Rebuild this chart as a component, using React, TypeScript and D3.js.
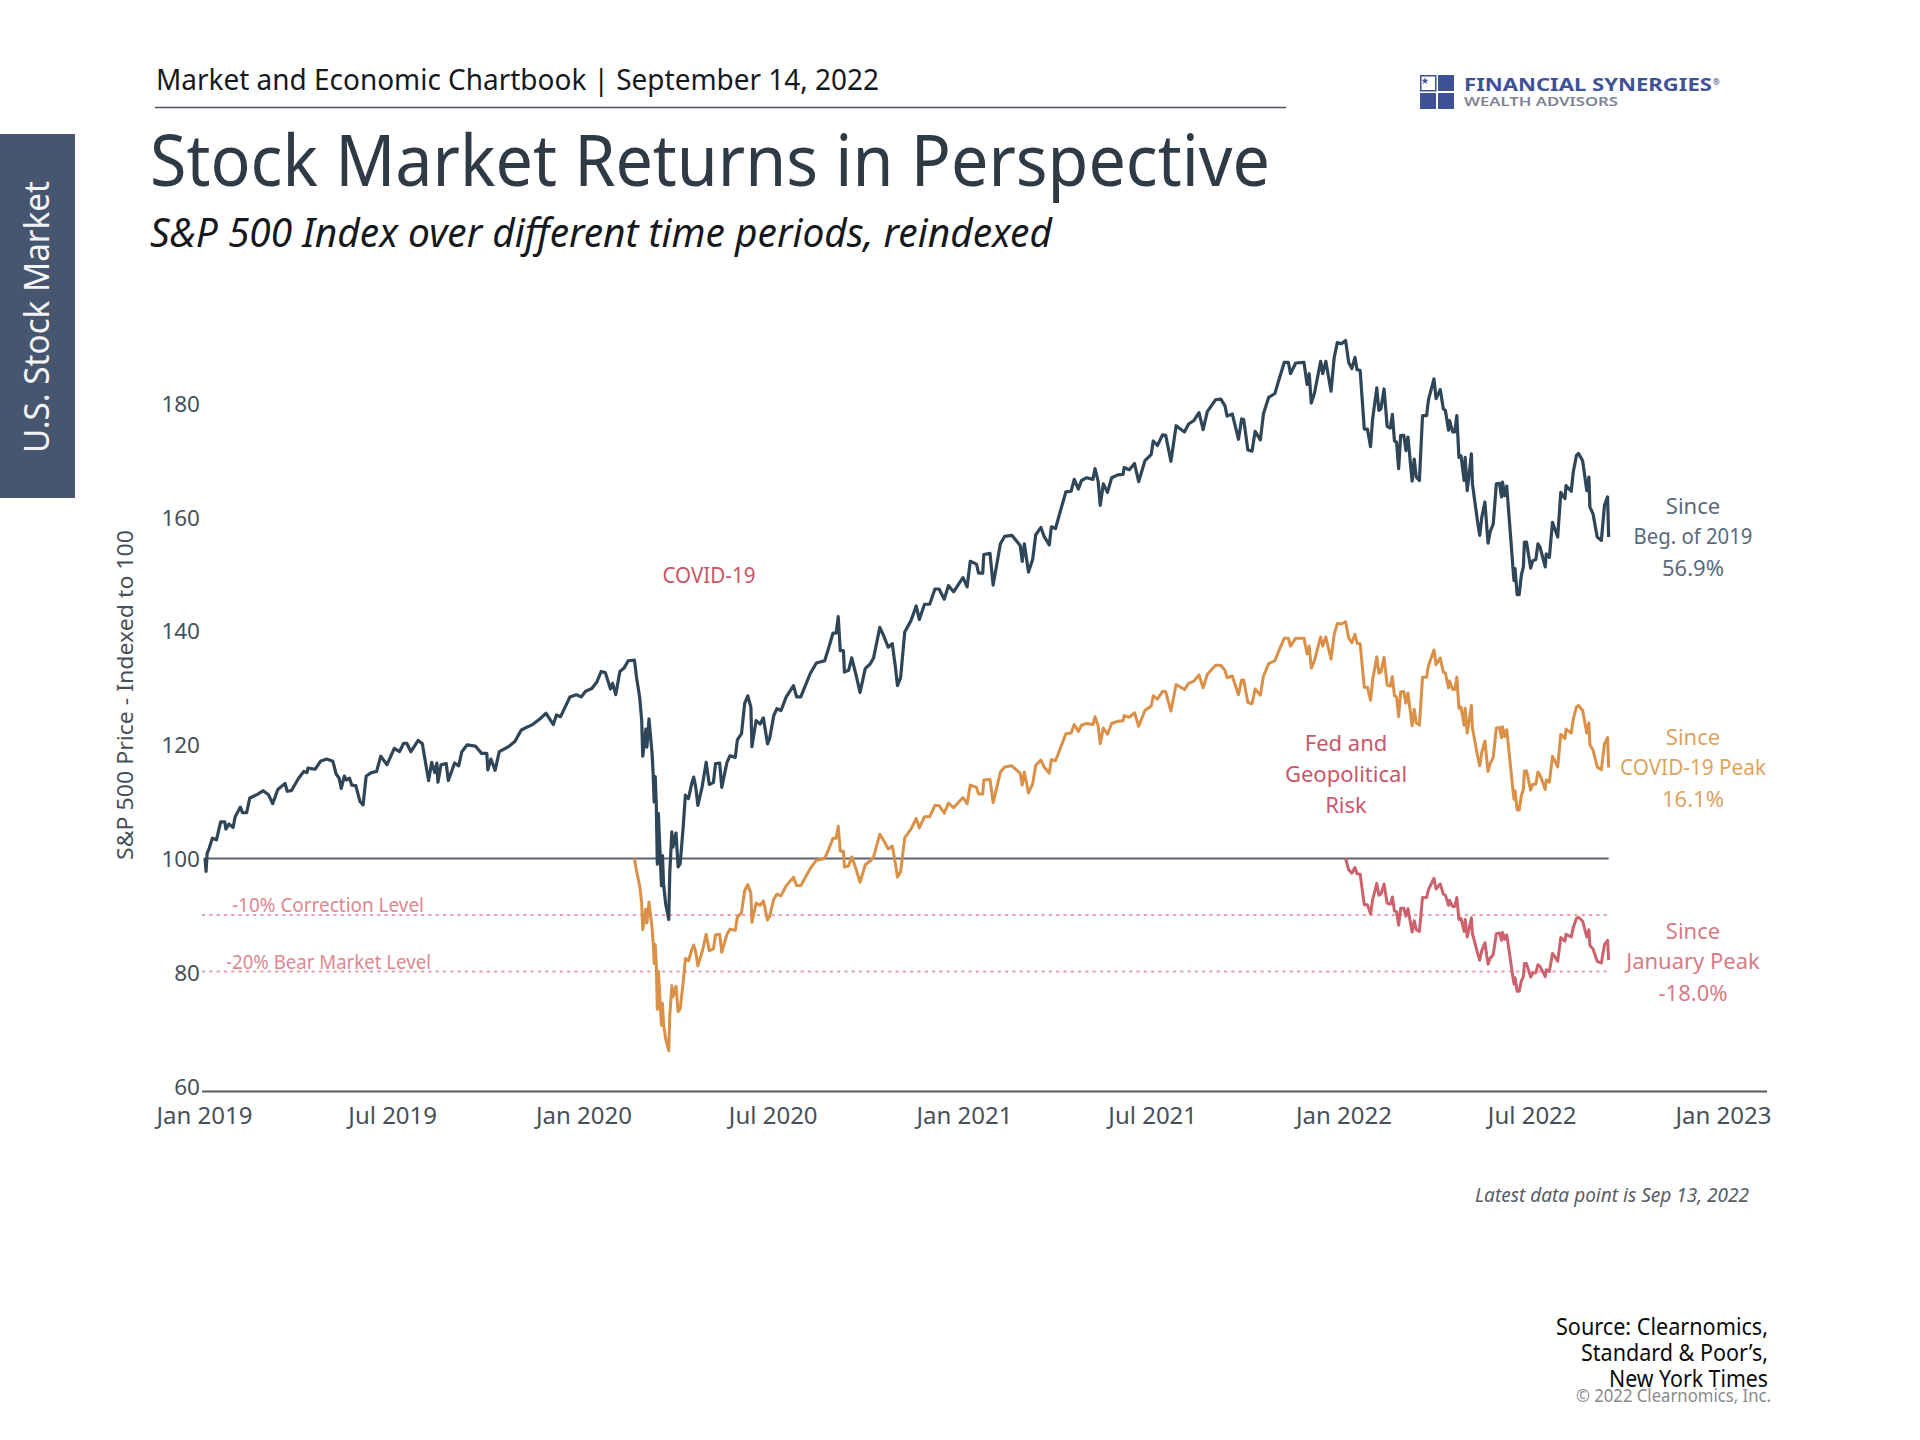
import * as d3 from "d3";
import { useEffect, useRef } from "react";

// Days since Jan 1, 2019
const days = [
  1, 2, 3, 5, 8, 12, 16, 20, 21, 24, 28, 30, 35, 37, 41, 44, 51, 57, 62, 66, 71, 78, 80, 84, 91, 96, 99, 100, 107, 112,
  118, 124, 127, 130, 132, 135, 137, 140, 142, 146, 150, 153, 156, 161, 166, 170, 176, 183, 188, 192, 195, 199, 206,
  210, 216, 219, 222, 224, 225, 228, 233, 235, 241, 245, 248, 253, 261, 267, 272, 273, 276, 280, 284, 293, 299, 305,
  310, 316, 323, 329, 336, 339, 343, 352, 358, 363, 367, 373, 378, 382, 386, 391, 393, 396, 400, 404, 408,
  414, 416, 419, 421, 422, 425, 426, 428, 431, 432, 433, 434, 435, 436, 437, 440, 441, 442, 444, 447, 448, 450, 451,
  454, 456, 458, 461, 463, 466, 469, 471, 473, 475, 479, 483, 486, 490, 492, 496, 498, 503, 506, 511, 513, 517, 520,
  523, 526, 527, 531, 535, 538, 542, 544, 548, 551, 555, 560, 567, 570, 574, 583, 589, 597, 601, 605, 608, 610, 612,
  615, 616, 620, 623, 627, 631, 636, 641, 644, 650, 654, 658, 662, 665, 667, 670, 674, 680, 685, 688, 693, 698, 703,
  707, 712, 716, 721, 726, 730, 734, 737, 743, 745, 749, 750, 756, 759, 766, 770, 777, 785, 787, 789, 793, 797, 800,
  805, 808, 813, 815, 819, 824, 829, 834, 837, 841, 844, 849, 855, 857, 860, 862, 865, 869, 873, 879, 884, 885, 890,
  895, 899, 905, 911, 913, 917, 922, 925, 930, 935, 943, 947, 952, 957, 961, 965, 973, 978, 982, 984, 989, 995, 998,
  1000, 1004, 1008, 1011, 1016, 1019, 1024, 1030, 1033, 1039, 1043, 1045, 1050, 1058, 1061, 1063, 1065, 1068, 1074,
  1076, 1079, 1084, 1087, 1090, 1094,
  1098, 1101, 1104, 1107, 1109, 1112, 1116, 1119, 1122, 1124, 1128, 1130, 1132, 1135, 1138, 1141, 1143, 1145, 1147,
  1149, 1151, 1154, 1156, 1158, 1162, 1164, 1166, 1169, 1172, 1176, 1177, 1178, 1183, 1185, 1189, 1192, 1194, 1197,
  1198, 1201, 1203, 1205, 1207, 1209, 1212, 1213, 1215, 1219, 1220, 1225, 1227, 1229, 1232, 1235, 1237, 1240, 1243,
  1246, 1248, 1249, 1251, 1253, 1257, 1259, 1260, 1261, 1263, 1265, 1267, 1269, 1270, 1272, 1276, 1278, 1281, 1283,
  1285, 1290, 1291, 1294, 1297, 1299, 1302, 1305, 1309, 1310, 1315, 1317, 1320, 1322, 1326, 1330, 1332, 1333, 1336,
  1340, 1344, 1347, 1350, 1351,
];

// Since beginning of 2019
const sinceBeg2019 = [
  100.1, 97.7, 100.9, 101.8, 103.6, 103.3, 106.5, 106.5, 105.2, 106.1, 105.5, 107.4, 109.1, 108.1, 108.1, 110.7, 111.3,
  112, 111.3, 109.7, 112.2, 113.3, 111.9, 112, 114.2, 115.4, 115.2, 116, 115.8, 117.2, 117.6, 117.2, 115, 114.2, 112.4,
  114.6, 113.9, 114.2, 113, 112.9, 110.1, 109.5, 114.6, 115.2, 115.4, 118.1, 116.6, 119.5, 118.9, 120.4, 120.4, 118.9,
  120.9, 120.3, 113.8, 117, 115.2, 116.9, 113.5, 116.6, 116.8, 113.8, 116.9, 116.4, 118.9, 120.1, 119.9, 118.6, 118.6,
  115.7, 117.6, 115.6, 118.9, 119.8, 120.7, 122.7, 123.2, 123.7, 124.7, 125.7, 123.7, 125.4, 125.1, 128.6, 129, 128.6,
  129.6, 130.1, 131.3, 133.1, 132.9, 130, 131, 129, 133.1, 133.7, 135,
  135.1, 132.1, 128.6, 124.4, 118.1, 122.9, 119.7, 124.7, 118.5, 114.9, 110, 114.5, 109.7, 99, 108, 95.2, 100.5, 95.5,
  92, 89.2, 97.5, 104.7, 102, 104.5, 98.5, 99.1, 105.8, 111.2, 110.6, 113.2, 114.4, 112.6, 109.4, 112.6, 117, 113.1,
  113.5, 116.8, 116.9, 112.6, 117, 118.2, 117.9, 121, 122.1, 127.4, 128.8, 126.8, 119.8, 124.4, 123.8, 124.9, 120.3,
  121.2, 125.3, 126.5, 126.2, 128.6, 130.6, 128.6, 128.6, 132.7, 134.6, 135, 137.4, 139.9, 139.9, 142.8, 136.8, 136.8,
  133, 133.3, 135.5, 132.6, 129.4, 133.6, 134.5, 135.5, 140.9, 139.3, 137.4, 138, 133.9, 130.6, 132, 140.1, 142.1,
  144.7, 142.3, 145, 145, 147.7, 147.7, 145.9, 148.3, 147.2, 148.6, 149.7, 148.1, 152.6, 152.1, 150.5, 150.5, 153.8,
  154, 148.4, 155.7, 157, 157.2, 155.4, 152.6, 155.7, 150.7, 152.9, 157.3, 158.6, 157, 155.5, 158.7, 158.4, 161.7,
  164.9, 165, 167.1, 165.4, 166.9, 167.4, 167.1, 169, 166.8, 162.5, 166.3, 164.8, 167.4, 167.9, 168, 169.2, 168.8,
  169.9, 166.7, 170.4, 171.5, 173.9, 173.1, 175, 174.9, 170.3, 176.6, 175.5, 176.9, 177.5, 178.9, 175.9, 179.1, 181.2,
  181.3, 180.1, 178.3, 178.7, 174.2, 177.8, 177.7, 172.3, 172.1, 175.6, 174.1, 178.7, 181.6, 182.3, 184.2, 187.8,
  187.8, 185.8, 187.7, 187.8, 183.9, 185.8, 180.6, 182.3, 188, 185.8, 188, 182.7, 188.6, 191.3, 191.1,
  191.7, 187.8, 186.7, 188.7, 186.5, 186.4, 176, 176, 172.9, 177.8, 183.3, 179.3, 179.6, 183.1, 176.5, 176.2, 178.6,
  173.9, 173.7, 169, 174.9, 174.9, 172.2, 174.6, 166.8, 170.7, 167.5, 166.9, 178.4, 178.4, 180.2, 181.4, 184.9, 181.4,
  183, 179.6, 179.3, 175.8, 177.5, 175.5, 175.5, 178.4, 171, 171.3, 166.9, 171, 165.1, 171.6, 166.3, 159.5, 157.2,
  160.4, 163.1, 155.8, 157.8, 159.2, 166.3, 166.4, 164, 166.6, 164.2, 165.9, 156.3, 151.3, 149.2, 151.3, 146.7, 146.7,
  150.1, 151.6, 156, 156, 151.4, 152.7, 152.9, 155.7, 155.1, 151.6, 153.9, 153.3, 159.5, 158.5, 156.9, 164.8, 163.7,
  166, 165, 168.4, 171.3, 171.7, 170.4, 165.1, 167.5, 162.2, 161, 156.9, 156.3, 162.5, 164, 156.9,
];

// Since the COVID-19 peak, lines up with the end of days
const sinceCovidPeak = [
  100, 97.8, 95.2, 92.1, 87.4, 91, 88.6, 92.3, 87.7, 85.1, 81.4, 84.8, 81.2, 73.3, 80, 70.5, 74.4, 70.7, 68.1, 66,
  72.2, 77.5, 75.5, 77.4, 72.9, 73.4, 78.3, 82.3, 81.9, 83.8, 84.7, 83.4, 81, 83.4, 86.6, 83.7, 84, 86.5, 86.6, 83.4,
  86.6, 87.5, 87.3, 89.6, 90.4, 94.3, 95.4, 93.9, 88.7, 92.1, 91.7, 92.5, 89.1, 89.7, 92.8, 93.7, 93.4, 95.2, 96.7,
  95.2, 95.2, 98.2, 99.7, 100, 101.7, 103.6, 103.6, 105.7, 101.3, 101.3, 98.5, 98.7, 100.3, 98.2, 95.8, 98.9, 99.6,
  100.3, 104.3, 103.1, 101.7, 102.2, 99.1, 96.7, 97.7, 103.7, 105.2, 107.1, 105.4, 107.4, 107.4, 109.4, 109.4, 108,
  109.8, 109, 110, 110.8, 109.7, 113, 112.6, 111.4, 111.4, 113.9, 114, 109.9, 115.3, 116.2, 116.4, 115.1, 113, 115.3,
  111.6, 113.2, 116.5, 117.4, 116.2, 115.1, 117.5, 117.3, 119.7, 122.1, 122.2, 123.7, 122.5, 123.6, 123.9, 123.7,
  125.1, 123.5, 120.3, 123.1, 122, 123.9, 124.3, 124.4, 125.3, 125, 125.8, 123.4, 126.2, 127, 128.8, 128.2, 129.6,
  129.5, 126.1, 130.8, 129.9, 131, 131.4, 132.5, 130.2, 132.6, 134.2, 134.2, 133.3, 132, 132.3, 129, 131.6, 131.6,
  127.6, 127.4, 130, 128.9, 132.3, 134.5, 135, 136.4, 139, 139, 137.6, 139, 139, 136.2, 137.6, 133.7, 135, 139.2,
  137.6, 139.2, 135.3, 139.6, 141.6, 141.5,
  141.9, 139, 138.2, 139.7, 138.1, 138, 130.3, 130.3, 128, 131.6, 135.7, 132.8, 133, 135.6, 130.7, 130.5, 132.2,
  128.8, 128.6, 125.1, 129.5, 129.5, 127.5, 129.3, 123.5, 126.4, 124, 123.6, 132.1, 132.1, 133.4, 134.3, 136.9, 134.3,
  135.5, 133, 132.8, 130.2, 131.4, 129.9, 129.9, 132.1, 126.6, 126.8, 123.6, 126.6, 122.2, 127.1, 123.1, 118.1, 116.4,
  118.8, 120.8, 115.4, 116.8, 117.9, 123.1, 123.2, 121.4, 123.3, 121.6, 122.8, 115.7, 112, 110.5, 112, 108.6, 108.6,
  111.1, 112.2, 115.5, 115.5, 112.1, 113.1, 113.2, 115.3, 114.8, 112.2, 113.9, 113.5, 118.1, 117.4, 116.2, 122, 121.2,
  122.9, 122.2, 124.7, 126.8, 127.1, 126.2, 122.2, 124, 120.1, 119.2, 116.2, 115.7, 120.3, 121.4, 116.1,
];

// Since the January 2022 peak, lines up with the end of days
const sinceJanuaryPeak = [
  100, 98, 97.4, 98.4, 97.3, 97.2, 91.8, 91.8, 90.2, 92.7, 95.6, 93.5, 93.7, 95.5, 92.1, 91.9, 93.2, 90.7, 90.6, 88.2,
  91.2, 91.2, 89.8, 91.1, 87, 89, 87.4, 87.1, 93.1, 93.1, 94, 94.6, 96.5, 94.6, 95.5, 93.7, 93.5, 91.7, 92.6, 91.5,
  91.5, 93.1, 89.2, 89.4, 87.1, 89.2, 86.1, 89.5, 86.7, 83.2, 82, 83.7, 85.1, 81.3, 82.3, 83, 86.7, 86.8, 85.5, 86.9,
  85.7, 86.5, 81.5, 78.9, 77.8, 78.9, 76.5, 76.5, 78.3, 79.1, 81.4, 81.4, 79, 79.7, 79.8, 81.2, 80.9, 79.1, 80.3, 80,
  83.2, 82.7, 81.8, 86, 85.4, 86.6, 86.1, 87.8, 89.4, 89.6, 88.9, 86.1, 87.4, 84.6, 84, 81.8, 81.5, 84.8, 85.5, 82,
];

const yTicks = [60, 80, 100, 120, 140, 160, 180];
const xTicks = ["2019-01", "2019-07", "2020-01", "2020-07", "2021-01", "2021-07", "2022-01", "2022-07", "2023-01"];
const correctionLevels = [90, 80];

const FONT = '"Noto Sans", sans-serif';
const DARK = "#474f59";

export default function App() {
  const svgRef = useRef<SVGSVGElement>(null);

  useEffect(() => {
    if (!svgRef.current) return;
    const svg = d3.select(svgRef.current);
    svg.selectAll("*").remove();
    svg.style("font-family", FONT);

    const start = new Date(2019, 0, 1);
    const parseMonth = d3.timeParse("%Y-%m");
    const xScale = d3
      .scaleTime()
      .domain([start, new Date(2023, 0, 1)])
      .range([204, 1723]);
    const yScale = d3.scaleLinear().domain([60, 180]).range([1084.5, 406.5]);
    // The tick labels sit on a slightly wider spacing than the plotted lines
    const yLabelScale = d3.scaleLinear().domain([60, 180]).range([1085, 402]);

    const lineEnd = xScale(d3.timeDay.offset(start, days[days.length - 1]));

    const text = (
      str: string,
      x: number,
      y: number,
      size: number,
      fill: string,
      opts: { anchor?: string; italic?: boolean; width?: number; weight?: number; rotate?: boolean } = {},
    ) => {
      const t = svg
        .append("text")
        .attr("transform", `translate(${x},${y})${opts.rotate ? " rotate(-90)" : ""}`)
        .attr("text-anchor", opts.anchor ?? "start")
        .style("font-size", `${size}px`)
        .style("fill", fill)
        .text(str);
      if (opts.italic) t.style("font-style", "italic");
      if (opts.weight) t.style("font-weight", opts.weight);
      if (opts.width) t.attr("textLength", opts.width).attr("lengthAdjust", "spacingAndGlyphs");
      return t;
    };

    // Header
    text("Market and Economic Chartbook | September 14, 2022", 156, 90, 29.5, "#15191d", { width: 723 });
    svg.append("line").attr("x1", 155).attr("x2", 1286).attr("y1", 107.5).attr("y2", 107.5).style("stroke", "#4a5560").style("stroke-width", 1.5);
    text("Stock Market Returns in Perspective", 150, 186, 72, "#2e3a46", { width: 1120 });
    text("S&P 500 Index over different time periods, reindexed", 150, 247, 40, "#15191d", { italic: true, width: 902 });

    // Side tab
    svg.append("rect").attr("x", 0).attr("y", 134).attr("width", 75).attr("height", 364).style("fill", "#46566f");
    text("U.S. Stock Market", 49, 453, 35, "#f2f4f7", { rotate: true, width: 272 });

    // Logo
    const logoBlue = "#3f5296";
    svg.append("rect").attr("x", 1420.75).attr("y", 75.75).attr("width", 15).attr("height", 15).style("fill", "#fff").style("stroke", logoBlue).style("stroke-width", 1.5);
    svg.append("path").attr("transform", "translate(1425,81)").attr("d", d3.symbol(d3.symbolStar, 16)()).style("fill", logoBlue);
    svg.append("rect").attr("x", 1438).attr("y", 75).attr("width", 16).attr("height", 16).style("fill", logoBlue);
    svg.append("rect").attr("x", 1420).attr("y", 93).attr("width", 16).attr("height", 16).style("fill", logoBlue);
    svg.append("rect").attr("x", 1438).attr("y", 93).attr("width", 16).attr("height", 16).style("fill", logoBlue);
    text("FINANCIAL SYNERGIES", 1464, 91, 17, logoBlue, { weight: 700, width: 248 });
    text("®", 1713, 85, 8, logoBlue, { weight: 700 });
    text("WEALTH ADVISORS", 1464, 106, 12, "#7d8494", { weight: 600, width: 154 });

    // Reference lines
    svg
      .selectAll(".level")
      .data(correctionLevels)
      .enter()
      .append("line")
      .attr("class", "level")
      .attr("x1", 202)
      .attr("x2", lineEnd - 2)
      .attr("y1", (d) => yScale(d))
      .attr("y2", (d) => yScale(d))
      .style("stroke", "#e8a0aa")
      .style("stroke-width", 2.2)
      .style("stroke-dasharray", "3.2,4.1");

    svg
      .append("line")
      .attr("x1", 204)
      .attr("x2", lineEnd)
      .attr("y1", yScale(100))
      .attr("y2", yScale(100))
      .style("stroke", "#5d6570")
      .style("stroke-width", 2);

    // Axes
    const yAxis = svg
      .append("g")
      .attr("transform", "translate(200,2)")
      .call(d3.axisLeft(yLabelScale).tickValues(yTicks).tickSize(0).tickPadding(0));
    const xAxis = svg
      .append("g")
      .attr("transform", "translate(0,1091.5)")
      .call(
        d3
          .axisBottom(xScale)
          .tickValues(xTicks.map((m) => parseMonth(m) as Date))
          .tickFormat((d) => d3.timeFormat("%b %Y")(d as Date))
          .tickSize(0)
          .tickPadding(15),
      );
    svg.selectAll(".domain").remove();
    yAxis.selectAll("text").style("font-family", FONT).style("font-size", "22.5px").style("fill", DARK);
    xAxis.selectAll("text").style("font-family", FONT).style("font-size", "24px").style("fill", DARK);
    svg.append("line").attr("x1", 202).attr("x2", 1767).attr("y1", 1091.5).attr("y2", 1091.5).style("stroke", "#565c63").style("stroke-width", 2);

    // Series
    const series = [
      { values: sinceBeg2019, color: "#2f4558", width: 3.2 },
      { values: sinceCovidPeak, color: "#da9047", width: 3 },
      { values: sinceJanuaryPeak, color: "#cb626d", width: 3 },
    ];
    series.forEach((s) => {
      const xs = days.slice(-s.values.length);
      const path = d3
        .line<number>()
        .x((_, i) => xScale(d3.timeDay.offset(start, xs[i])))
        .y((d) => yScale(d));
      svg
        .append("path")
        .attr("d", path(s.values))
        .style("fill", "none")
        .style("stroke", s.color)
        .style("stroke-width", s.width)
        .style("stroke-linejoin", "round");
    });

    // Annotations
    text("S&P 500 Price - Indexed to 100", 133, 860, 22.5, DARK, { rotate: true, width: 330 });
    text("-10% Correction Level", 232, 912, 20, "#dc8791", { width: 192 });
    text("-20% Bear Market Level", 226, 969, 20, "#dc8791", { width: 205 });
    text("COVID-19", 709, 583, 21.5, "#ca5463", { anchor: "middle", width: 93 });

    const block = (lines: string[], x: number, ys: number[], fill: string, widths: (number | undefined)[] = []) =>
      lines.forEach((l, i) => text(l, x, ys[i] + 8, 22, fill, { anchor: "middle", width: widths[i] }));
    block(["Fed and", "Geopolitical", "Risk"], 1346, [743, 774, 805], "#c9586a");
    block(["Since", "Beg. of 2019", "56.9%"], 1693, [506, 536, 568], "#5b6a7b", [undefined, 119]);
    block(["Since", "COVID-19 Peak", "16.1%"], 1693, [737, 767, 799], "#dda35f", [undefined, 146]);
    block(["Since", "January Peak", "-18.0%"], 1693, [931, 961, 993], "#d97a86");

    // Footer
    text("Latest data point is Sep 13, 2022", 1475, 1202, 20, "#565d67", { italic: true, width: 274 });
    text("Source: Clearnomics,", 1768, 1335, 23.5, "#0c0c0c", { anchor: "end", width: 212 });
    text("Standard & Poor’s,", 1768, 1361, 23.5, "#0c0c0c", { anchor: "end", width: 187 });
    text("New York Times", 1768, 1387, 23.5, "#0c0c0c", { anchor: "end", width: 159 });
    text("© 2022 Clearnomics, Inc.", 1771, 1402, 18, "#8a8a8a", { anchor: "end", width: 195 });
  }, []);

  return (
    <svg
      ref={svgRef}
      width={1920}
      height={1440}
      style={{ position: "absolute", left: 0, top: 0, background: "#fff" }}
    />
  );
}
